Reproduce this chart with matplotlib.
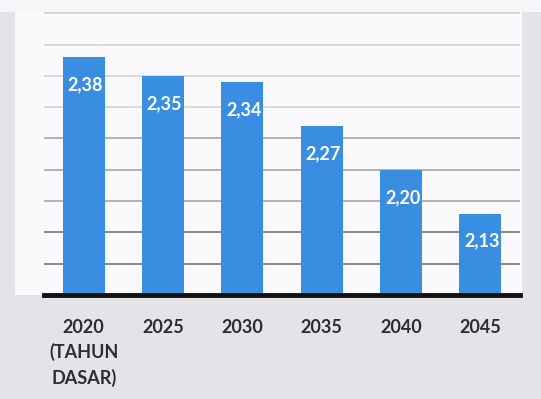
import matplotlib.pyplot as plt
from matplotlib.patches import Rectangle

# data
tahun = ["2020\n(TAHUN\nDASAR)", "2025", "2030", "2035", "2040", "2045"]
nilai = [2.38, 2.35, 2.34, 2.27, 2.20, 2.13]
label_nilai = ["2,38", "2,35", "2,34", "2,27", "2,20", "2,13"]
grid_y = [2.05, 2.10, 2.15, 2.20, 2.25, 2.30, 2.35, 2.40, 2.45]

plt.rcParams['font.family'] = ['Lato', 'DejaVu Sans']

fig = plt.figure(figsize=(5.41, 3.99), dpi=100)
fig.patch.set_facecolor('#e4e3e8')
# white panel behind the plot
fig.patches.append(Rectangle((15/541, (399-295)/399), (522-15)/541, (295-12)/399,
                             transform=fig.transFigure, facecolor='#fafafc',
                             edgecolor='none', zorder=-2))
fig.patches.append(Rectangle((0, (399-12)/399), 1, 12/399,
                             transform=fig.transFigure, facecolor='#f6f6f8',
                             edgecolor='none', zorder=-2))

ax = fig.add_axes([44/541, (399-295)/399, (520-44)/541, (295-12)/399])
ax.set_facecolor('none')
ax.set_zorder(2)

x = range(len(nilai))
bars = ax.bar(x, nilai, width=0.53, bottom=0, color='#3a8ee2', zorder=3)

# gridlines: darker near the baseline, fading towards the top
for g in grid_y:
    c = '#867e7e' if g < 2.12 else ('#b3aaac' if g < 2.27 else '#d8d4d8')
    ax.axhline(g, color=c, lw=1.3, zorder=1)

for xi, v, t in zip(x, nilai, label_nilai):
    ax.text(xi + 0.02, v - 0.044, t, color='white', fontsize=13,
            fontweight='bold', ha='center', va='center', zorder=4)

ax.set_ylim(2.0, 2.452)
ax.set_xlim(-0.5, 5.5)
ax.set_xticks(list(x))
ax.set_xticklabels(tahun, fontsize=13, fontweight='bold', color='#2e2c30',
                   linespacing=1.5, va='top')
ax.tick_params(axis='x', length=0, pad=17)
ax.set_yticks([])
for s in ['top', 'right', 'left']:
    ax.spines[s].set_visible(False)
ax.spines['bottom'].set_linewidth(3.5)
ax.spines['bottom'].set_color('#111111')
ax.spines['bottom'].set_zorder(5)

fig.savefig('out.png', dpi=100, facecolor=fig.get_facecolor())
